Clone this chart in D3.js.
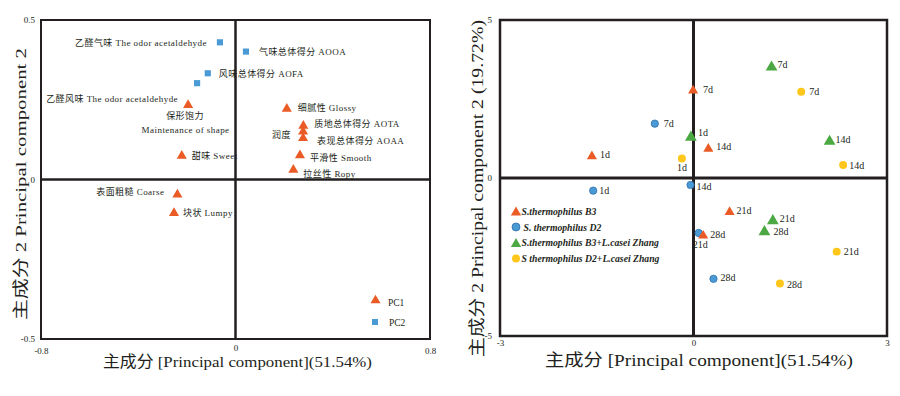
<!DOCTYPE html>
<html><head><meta charset="utf-8">
<script src="https://cdn.jsdelivr.net/npm/d3@7"></script>
<style>
body{margin:0;background:#fff}
svg{display:block}
text{font-family:"Liberation Serif","Noto Sans CJK SC",serif;fill:#231f20}
</style>
</head><body><svg id="c" width="900" height="396"></svg>
<script>
// ---------------- DATA: left panel (loadings) ----------------
const pc1Names = ["保形饱力 Maintenance of shape","甜味 Sweet","细腻性 Glossy","质地总体得分 AOTA","润度","表现总体得分 AOAA","平滑性 Smooth","拉丝性 Ropy","表面粗糙 Coarse","块状 Lumpy"];
const pc1X = [-0.195,-0.221,0.211,0.279,0.278,0.278,0.265,0.238,-0.239,-0.253];
const pc1Y = [0.238,0.079,0.226,0.173,0.155,0.134,0.080,0.035,-0.043,-0.101];
const pc2Names = ["乙醛气味 The odor acetaldehyde","气味总体得分 AOOA","风味总体得分 AOFA","乙醛风味 The odor acetaldehyde"];
const pc2X = [-0.064,0.043,-0.114,-0.158];
const pc2Y = [0.430,0.401,0.333,0.302];
const leftLegend = ["PC1","PC2"];
const leftXTicks = [-0.8,0,0.8];
const leftXTickLabels = ["-0.8","0","0.8"];
const leftYTicks = [-0.5,0,0.5];
const leftYTickLabels = ["-0.5","0","0.5"];
const leftXTitle = "主成分 [Principal component](51.54%)";
const leftYTitle = "主成分 2 Principal component 2";

// ---------------- DATA: right panel (scores) ----------------
const days = ["1d","7d","14d","21d","28d"];
const seriesNames = ["S.thermophilus B3","S. thermophilus D2","S.thermophilus B3+L.casei Zhang","S thermophilus D2+L.casei Zhang"];
const b3X = [-1.575,-0.006,0.23,0.56,0.15];
const b3Y = [0.73,2.81,0.97,-1.03,-1.78];
const d2X = [-1.555,-0.60,-0.046,0.08,0.31];
const d2Y = [-0.40,1.72,-0.22,-1.74,-3.19];
const b3lX = [-0.04,1.21,2.11,1.23,1.10];
const b3lY = [1.34,3.56,1.21,-1.30,-1.65];
const d2lX = [-0.18,1.67,2.32,2.22,1.34];
const d2lY = [0.62,2.73,0.41,-2.33,-3.34];
const rightXTicks = [-3,0,3];
const rightXTickLabels = ["-3","0","3"];
const rightYTicks = [-5,0,5];
const rightYTickLabels = ["-5","0","5"];
const rightXTitle = "主成分 [Principal component](51.54%)";
const rightYTitle = "主成分 2 Principal component 2 (19.72%)";

// ---------------- LAYOUT / STYLE ----------------
const C = {orange:"#EA5B26", blue:"#4A9BD5", green:"#4BA843", yellow:"#FFC71C", ink:"#231f20"};
// label offsets (px) for left-panel points, same order as names
const pc1Lab = [
  {lines:[{t:0,dx:-3,dy:15.5,a:"middle"},{t:1,dx:-2.5,dy:29.5,a:"middle"}]},
  {dx:10,dy:4.5},{dx:11,dy:3.5},{dx:11,dy:2.5},{dx:-31,dy:8,a:"end0"},{dx:14,dy:7},
  {dx:10,dy:7},{dx:10,dy:9},{dx:-13,dy:1.5,a:"end"},{dx:9,dy:4}
];
const pc2Lab = [{dx:-13,dy:4,a:"end"},{dx:13,dy:3.5},{dx:11,dy:3.5},{dx:-19,dy:19,a:"end"}];
const rLab = {
  b3:[{dx:8,dy:3.5},{dx:10,dy:3.5},{dx:8,dy:3},{dx:7,dy:3},{dx:7,dy:3.5}],
  d2:[{dx:6,dy:3.5},{dx:9,dy:3.5},{dx:6,dy:5.5},{dx:-6,dy:15},{dx:7,dy:2.5}],
  b3l:[{dx:7,dy:0},{dx:6,dy:2},{dx:6,dy:3.5},{dx:7,dy:3},{dx:9,dy:5}],
  d2l:[{dx:-5,dy:13},{dx:8,dy:3},{dx:6,dy:3.5},{dx:7,dy:3.5},{dx:7,dy:4.5}]
};

const svg = d3.select("#c");
svg.append("rect").attr("width",900).attr("height",396).attr("fill","#fff");

// triangle symbol centred on its bounding box
const triBox = {draw(ctx,size){
  const w = Math.sqrt(size*4/Math.sqrt(3)), h = w*Math.sqrt(3)/2;
  ctx.moveTo(0,-h/2); ctx.lineTo(w/2,h/2); ctx.lineTo(-w/2,h/2); ctx.closePath();
}};
const sym = (type,size)=>d3.symbol().type(type).size(size)();

function frame(g,x,y,sw,zw){
  g.append("rect").attr("x",x.range()[0]).attr("y",y.range()[1])
    .attr("width",x.range()[1]-x.range()[0]).attr("height",y.range()[0]-y.range()[1])
    .attr("fill","none").attr("stroke",C.ink).attr("stroke-width",sw);
  g.append("line").attr("x1",x(0)).attr("x2",x(0)).attr("y1",y.range()[1]).attr("y2",y.range()[0])
    .attr("stroke",C.ink).attr("stroke-width",zw);
  g.append("line").attr("y1",y(0)).attr("y2",y(0)).attr("x1",x.range()[0]).attr("x2",x.range()[1])
    .attr("stroke",C.ink).attr("stroke-width",zw);
}
function axes(g,x,y,xt,xl,yt,yl,xpad,ypad,fs){
  const ax = g.append("g").attr("transform",`translate(0,${y.range()[0]})`)
    .call(d3.axisBottom(x).tickValues(xt).tickSize(0).tickPadding(xpad).tickFormat((d,i)=>xl[i]));
  const ay = g.append("g").attr("transform",`translate(${x.range()[0]},0)`)
    .call(d3.axisLeft(y).tickValues(yt).tickSize(0).tickPadding(ypad).tickFormat((d,i)=>yl[i]));
  [ax,ay].forEach(a=>{a.select(".domain").remove();
    a.selectAll("text").attr("font-family",null).style("font-size",fs+"px").attr("fill",C.ink);});
  return [ax,ay];
}

// ================= LEFT PANEL =================
const xL = d3.scaleLinear().domain([-0.8,0.8]).range([41,430]);
const yL = d3.scaleLinear().domain([-0.5,0.5]).range([339,20]);
const gL = svg.append("g");
frame(gL,xL,yL,2,2.5);
const [axL] = axes(gL,xL,yL,leftXTicks,leftXTickLabels,leftYTicks,leftYTickLabels,9,6,9);
axL.selectAll(".tick").filter(d=>d===0).select("text").attr("y",6);

const pc1 = pc1Names.map((n,i)=>({n,x:pc1X[i],y:pc1Y[i],l:pc1Lab[i]}));
const pc2 = pc2Names.map((n,i)=>({n,x:pc2X[i],y:pc2Y[i],l:pc2Lab[i]}));

gL.selectAll("path.pc2").data(pc2).join("path").attr("class","pc2")
  .attr("d",sym(d3.symbolSquare,38)).attr("fill",C.blue)
  .attr("transform",d=>`translate(${xL(d.x)},${yL(d.y)})`);
gL.selectAll("path.pc1").data(pc1).join("path").attr("class","pc1")
  .attr("d",sym(triBox,44)).attr("fill",C.orange)
  .attr("transform",d=>`translate(${xL(d.x)},${yL(d.y)})`);

function leftLabel(d){
  const px = xL(d.x), py = yL(d.y), l = d.l;
  if(l.lines){
    const parts = [d.n.slice(0,d.n.indexOf(" ")), d.n.slice(d.n.indexOf(" ")+1)];
    l.lines.forEach(s=>gL.append("text").attr("x",px+s.dx).attr("y",py+s.dy)
      .attr("text-anchor",s.a).style("font-size","9px").style("letter-spacing","0.45px").text(parts[s.t]));
  } else {
    gL.append("text").attr("x",px+l.dx).attr("y",py+l.dy)
      .attr("text-anchor",l.a==="end"?"end":"start")
      .style("font-size","9px").style("letter-spacing","0.45px").text(d.n);
  }
}
pc1.forEach(leftLabel); pc2.forEach(leftLabel);

// left legend
const legL = gL.append("g");
legL.append("path").attr("d",sym(triBox,44)).attr("fill",C.orange).attr("transform","translate(375.5,299)");
legL.append("path").attr("d",sym(d3.symbolSquare,36)).attr("fill",C.blue).attr("transform","translate(375,322)");
legL.append("text").attr("x",388).attr("y",305.5).style("font-size","9.5px").text(leftLegend[0]);
legL.append("text").attr("x",389).attr("y",325.5).style("font-size","9.5px").text(leftLegend[1]);

// left titles
gL.append("text").attr("x",103).attr("y",367).attr("textLength",269).attr("lengthAdjust","spacingAndGlyphs")
  .style("font-size","15.5px").text(leftXTitle);
gL.append("text").attr("transform","translate(26,320) rotate(-90)").attr("textLength",272)
  .attr("lengthAdjust","spacingAndGlyphs").style("font-size","15.5px").text(leftYTitle);

// ================= RIGHT PANEL =================
const xR = d3.scaleLinear().domain([-3,3]).range([500,887]);
const yR = d3.scaleLinear().domain([-5,5]).range([336,20]);
const gR = svg.append("g");
frame(gR,xR,yR,2.5,3);
axes(gR,xR,yR,rightXTicks,rightXTickLabels,rightYTicks,rightYTickLabels,4,8,9);

const series = [
  {key:"b3", xs:b3X, ys:b3Y, type:triBox, size:44, fill:C.orange, stroke:"none"},
  {key:"d2", xs:d2X, ys:d2Y, type:d3.symbolCircle, size:42, fill:C.blue, stroke:"#2f6ea8"},
  {key:"b3l", xs:b3lX, ys:b3lY, type:triBox, size:60, fill:C.green, stroke:"none"},
  {key:"d2l", xs:d2lX, ys:d2lY, type:d3.symbolCircle, size:50, fill:C.yellow, stroke:"none"}
];
const drawOrder = [1,0,2,3];
drawOrder.forEach(si=>{
  const s = series[si];
  const pts = days.map((dd,i)=>({d:dd,x:s.xs[i],y:s.ys[i],l:rLab[s.key][i]}));
  gR.selectAll(null).data(pts).join("path")
    .attr("d",sym(s.type,s.size)).attr("fill",s.fill).attr("stroke",s.stroke).attr("stroke-width",0.8)
    .attr("transform",d=>`translate(${xR(d.x)},${yR(d.y)})`);
  gR.selectAll(null).data(pts).join("text")
    .attr("x",d=>xR(d.x)+d.l.dx).attr("y",d=>yR(d.y)+d.l.dy)
    .style("font-size","10px").text(d=>d.d);
});

// right legend
const legRowsY = [211,227,242.5,258.5];
series.forEach((s,i)=>{
  gR.append("path").attr("d",sym(s.type,s.type===triBox?46:50)).attr("fill",s.fill)
    .attr("stroke",s.stroke).attr("stroke-width",0.8)
    .attr("transform",`translate(516,${legRowsY[i]})`);
  gR.append("text").attr("x",i===1?523.5:521.5).attr("y",legRowsY[i]+3.5)
    .style("font-size","9.7px").style("font-style","italic").style("font-weight","bold")
    .text(seriesNames[i]);
});

// right titles
gR.append("text").attr("x",545).attr("y",366).attr("textLength",308).attr("lengthAdjust","spacingAndGlyphs")
  .style("font-size","16.5px").text(rightXTitle);
gR.append("text").attr("transform","translate(483,357) rotate(-90)").attr("textLength",337)
  .attr("lengthAdjust","spacingAndGlyphs").style("font-size","16.5px").text(rightYTitle);
</script></body></html>
